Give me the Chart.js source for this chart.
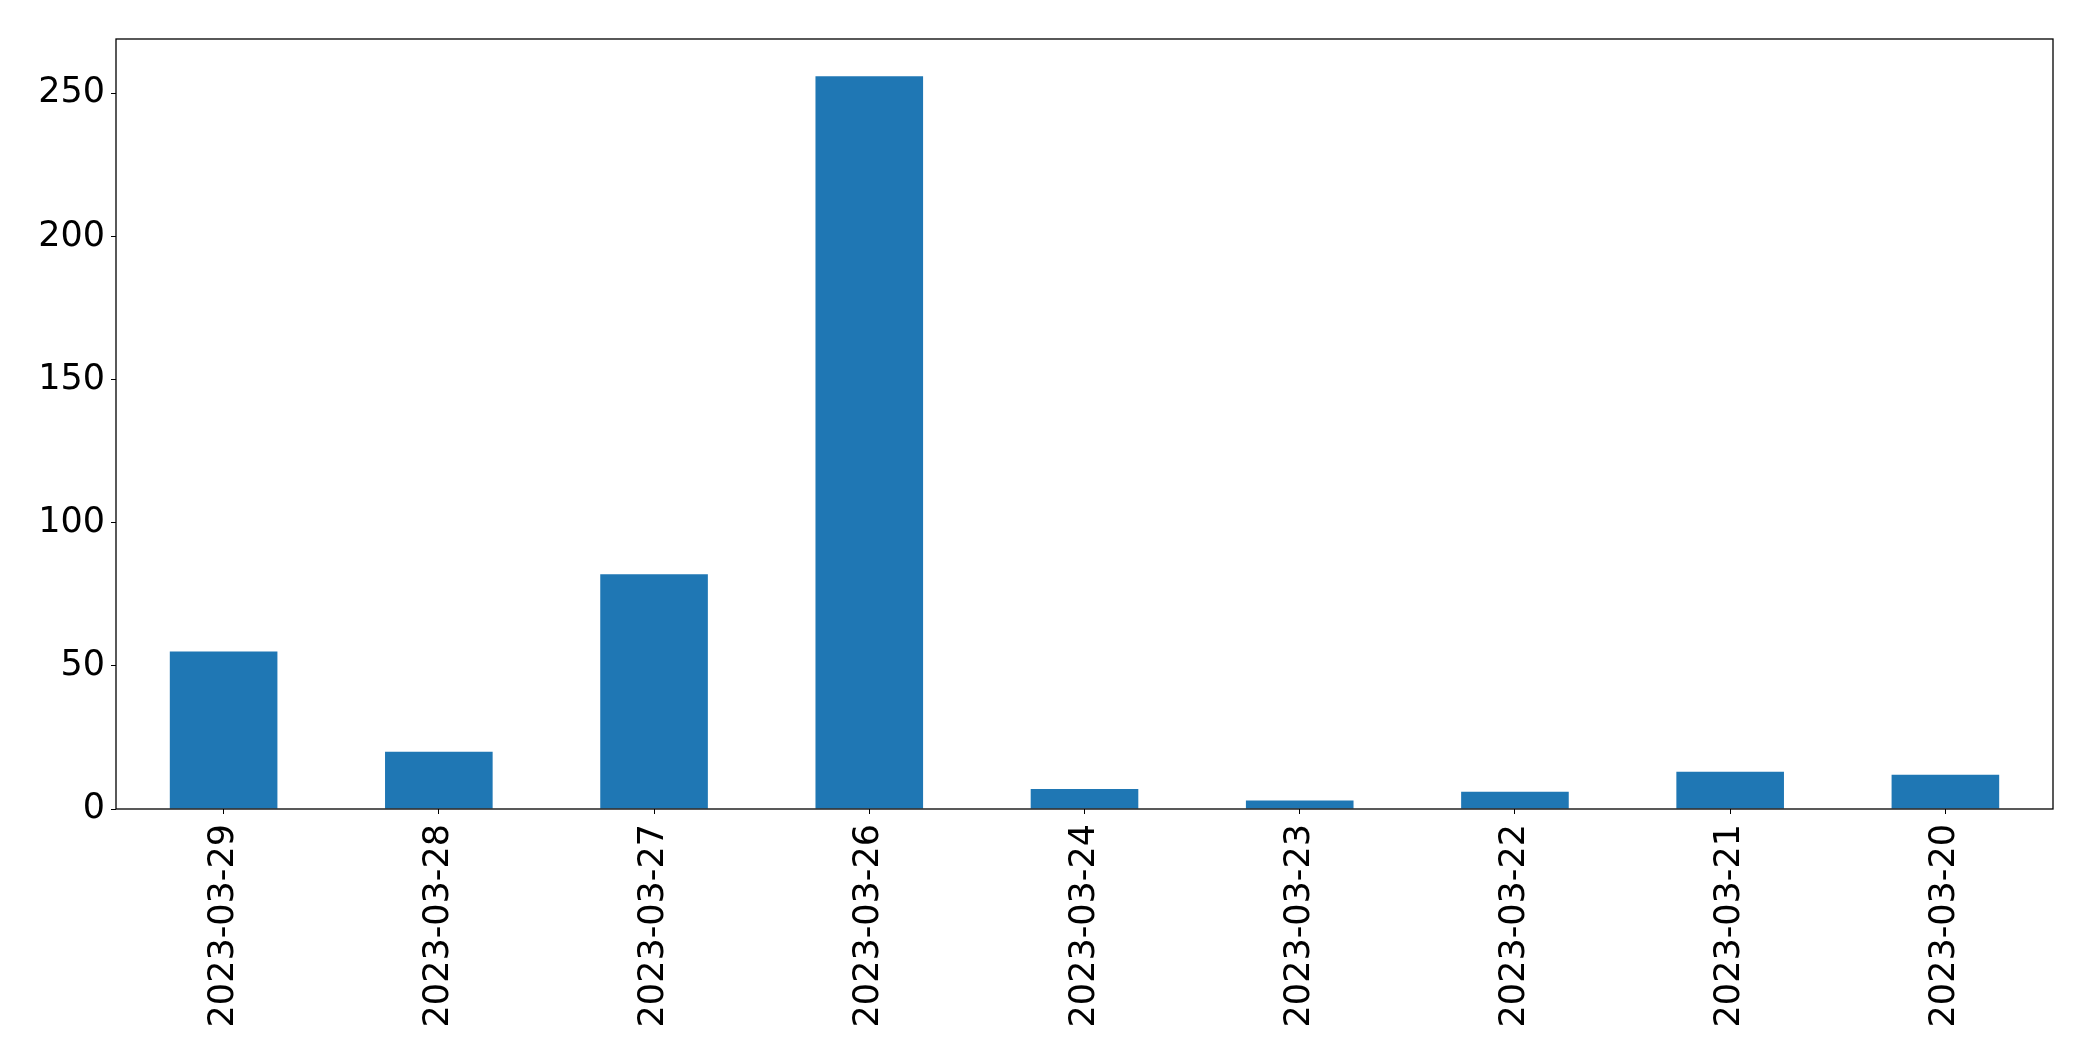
<!DOCTYPE html>
<html>
<head>
<meta charset="utf-8">
<script src="https://cdn.jsdelivr.net/npm/chart.js@4"></script>
<style>
  html, body { margin: 0; padding: 0; background: #fff; }
  canvas { display: block; }
</style>
</head>
<body>
<canvas id="chart" width="2093" height="1061"></canvas>
<script>
// data
const dates = ['2023-03-29', '2023-03-28', '2023-03-27', '2023-03-26', '2023-03-24',
               '2023-03-23', '2023-03-22', '2023-03-21', '2023-03-20'];
const counts = [55, 20, 82, 256, 7, 3, 6, 13, 12];
const yTicks = [0, 50, 100, 150, 200, 250];

// frame around the plot area (matplotlib style box)
const boxPlugin = {
  id: 'box',
  afterDraw(chart) {
    const a = chart.chartArea;
    const ctx = chart.ctx;
    ctx.save();
    ctx.strokeStyle = '#000';
    ctx.lineWidth = 1.3;
    ctx.strokeRect(a.left, a.top, a.right - a.left, a.bottom - a.top);
    ctx.restore();
  }
};

const font = { family: 'DejaVu Sans', size: 35 };

new Chart(document.getElementById('chart'), {
  type: 'bar',
  data: {
    labels: dates,
    datasets: [{
      data: counts,
      backgroundColor: '#1f77b4',
      borderWidth: 0,
      barPercentage: 0.5,
      categoryPercentage: 1.0
    }]
  },
  options: {
    responsive: false,
    animation: false,
    layout: { padding: { left: 0, top: 39, right: 40, bottom: 0 } },
    plugins: { legend: { display: false }, tooltip: { enabled: false } },
    scales: {
      x: {
        offset: true,
        grid: { drawOnChartArea: false, drawTicks: true, tickLength: 5, color: '#000', offset: false },
        border: { display: false },
        ticks: { color: '#000', font: font, minRotation: 90, maxRotation: 90, padding: 10, autoSkip: false },
        afterFit(scale) { scale.height = 252; }
      },
      y: {
        min: 0,
        max: 269,
        afterBuildTicks(scale) { scale.ticks = yTicks.map(v => ({ value: v })); },
        grid: { drawOnChartArea: false, drawTicks: true, tickLength: 5, color: '#000' },
        border: { display: false },
        ticks: { color: '#000', font: font, padding: 6 },
        afterFit(scale) { scale.width = 116; }
      }
    }
  },
  plugins: [boxPlugin]
});
</script>
</body>
</html>
